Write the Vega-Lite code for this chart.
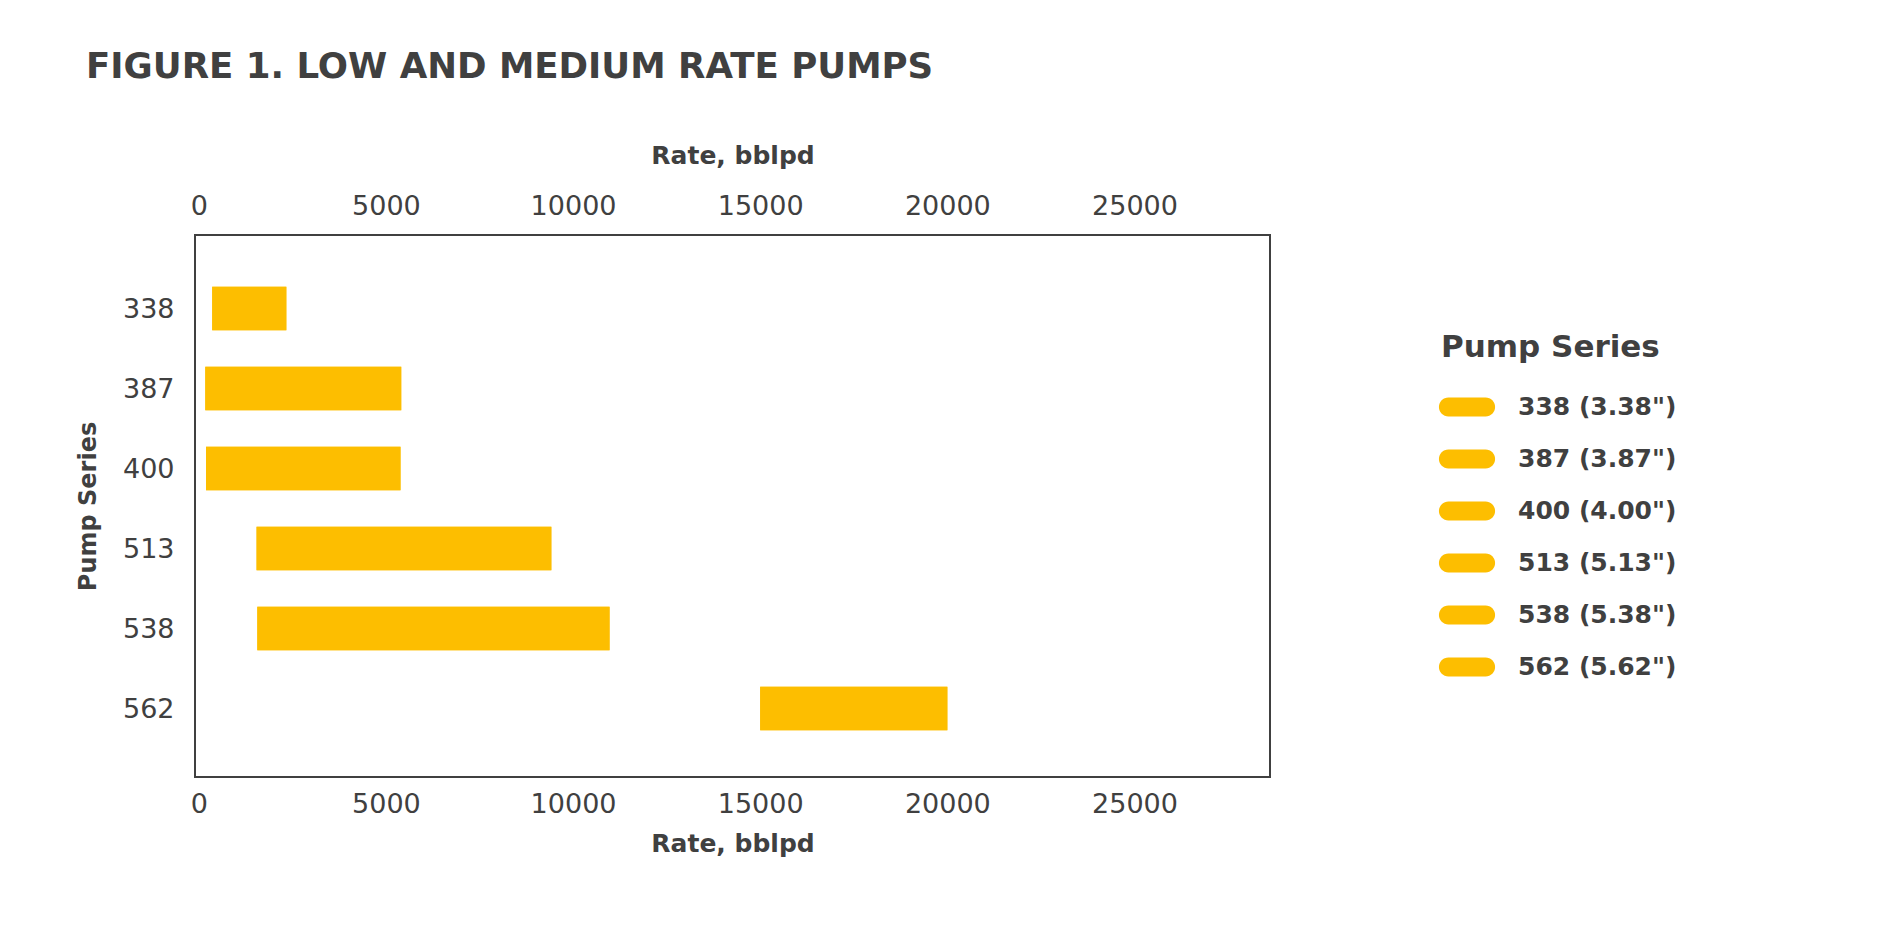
{
  "$schema": "https://vega.github.io/schema/vega-lite/v6.json",
  "width": 1075,
  "height": 542,
  "autosize": {"type": "none"},
  "padding": {"left": 195, "top": 235, "right": 620, "bottom": 153},
  "background": "white",
  "title": {
    "text": "FIGURE 1. LOW AND MEDIUM RATE PUMPS",
    "anchor": "start",
    "frame": "group",
    "dx": -109,
    "offset": 57,
    "font": "DejaVu Sans",
    "fontSize": 35.6,
    "fontWeight": "bold",
    "color": "#404040"
  },
  "data": {
    "values": [
      {"series": "338", "label": "338 (3.38\")", "start": 360, "end": 2340},
      {"series": "387", "label": "387 (3.87\")", "start": 175, "end": 5410},
      {"series": "400", "label": "400 (4.00\")", "start": 195, "end": 5390},
      {"series": "513", "label": "513 (5.13\")", "start": 1545, "end": 9420},
      {"series": "538", "label": "538 (5.38\")", "start": 1565, "end": 10975},
      {"series": "562", "label": "562 (5.62\")", "start": 15000, "end": 20000}
    ]
  },
  "encoding": {
    "y": {
      "field": "series",
      "type": "nominal",
      "sort": ["338", "387", "400", "513", "538", "562"],
      "scale": {"paddingInner": 0.4575, "paddingOuter": 0.6163, "align": 0.525},
      "axis": {
        "title": "Pump Series",
        "labelFont": "DejaVu Sans",
        "labelFontSize": 27,
        "labelColor": "#404040",
        "labelPadding": 21,
        "labelBaseline": "middle",
        "labelOffset": 2,
        "domain": false,
        "ticks": false,
        "grid": false,
        "titleFont": "DejaVu Sans",
        "titleFontSize": 24,
        "titleFontWeight": "bold",
        "titleColor": "#404040",
        "titlePadding": 22
      }
    },
    "color": {
      "field": "label",
      "type": "nominal",
      "sort": ["338 (3.38\")", "387 (3.87\")", "400 (4.00\")", "513 (5.13\")", "538 (5.38\")", "562 (5.62\")"],
      "scale": {"range": ["#FDBE00", "#FDBE00", "#FDBE00", "#FDBE00", "#FDBE00", "#FDBE00"]},
      "legend": {
        "title": "Pump Series",
        "orient": "none",
        "legendX": 1246,
        "legendY": 98,
        "titleFont": "DejaVu Sans",
        "titleFontSize": 31,
        "titleFontWeight": "bold",
        "titleColor": "#404040",
        "titlePadding": 17,
        "titleLimit": 600,
        "labelFont": "DejaVu Sans",
        "labelFontSize": 25,
        "labelFontWeight": "bold",
        "labelColor": "#404040",
        "labelOffset": 25,
        "labelLimit": 400,
        "symbolType": "M -0.715,-0.365 L 0.715,-0.365 A 0.365,0.365 0 0 1 0.715,0.365 L -0.715,0.365 A 0.365,0.365 0 0 1 -0.715,-0.365 Z",
        "symbolSize": 2704,
        "symbolStrokeWidth": 0,
        "symbolOpacity": 1,
        "rowPadding": 13
      }
    }
  },
  "layer": [
    {
      "mark": {"type": "bar"},
      "encoding": {
        "x": {
          "field": "start",
          "type": "quantitative",
          "scale": {"domain": [-100, 28620], "nice": false, "zero": false},
          "axis": {
            "orient": "bottom",
            "title": "Rate, bblpd",
            "values": [0, 5000, 10000, 15000, 20000, 25000],
            "format": "d",
            "labelFont": "DejaVu Sans",
            "labelFontSize": 27,
            "labelColor": "#404040",
            "labelPadding": 14,
            "labelFlush": false,
            "labelOverlap": false,
            "domain": false,
            "ticks": false,
            "grid": false,
            "titleFont": "DejaVu Sans",
            "titleFontSize": 25,
            "titleFontWeight": "bold",
            "titleColor": "#404040",
            "titlePadding": 14
          }
        },
        "x2": {"field": "end"}
      }
    },
    {
      "mark": {"type": "bar"},
      "encoding": {
        "x": {
          "field": "start",
          "type": "quantitative",
          "scale": {"domain": [-100, 28620], "nice": false, "zero": false},
          "axis": {
            "orient": "top",
            "title": "Rate, bblpd",
            "values": [0, 5000, 10000, 15000, 20000, 25000],
            "format": "d",
            "labelFont": "DejaVu Sans",
            "labelFontSize": 27,
            "labelColor": "#404040",
            "labelPadding": 15,
            "labelFlush": false,
            "labelOverlap": false,
            "domain": false,
            "ticks": false,
            "grid": false,
            "titleFont": "DejaVu Sans",
            "titleFontSize": 25,
            "titleFontWeight": "bold",
            "titleColor": "#404040",
            "titlePadding": 24
          }
        },
        "x2": {"field": "end"}
      }
    }
  ],
  "resolve": {"axis": {"x": "independent"}},
  "config": {
    "view": {"stroke": "#404040", "strokeWidth": 2}
  }
}
